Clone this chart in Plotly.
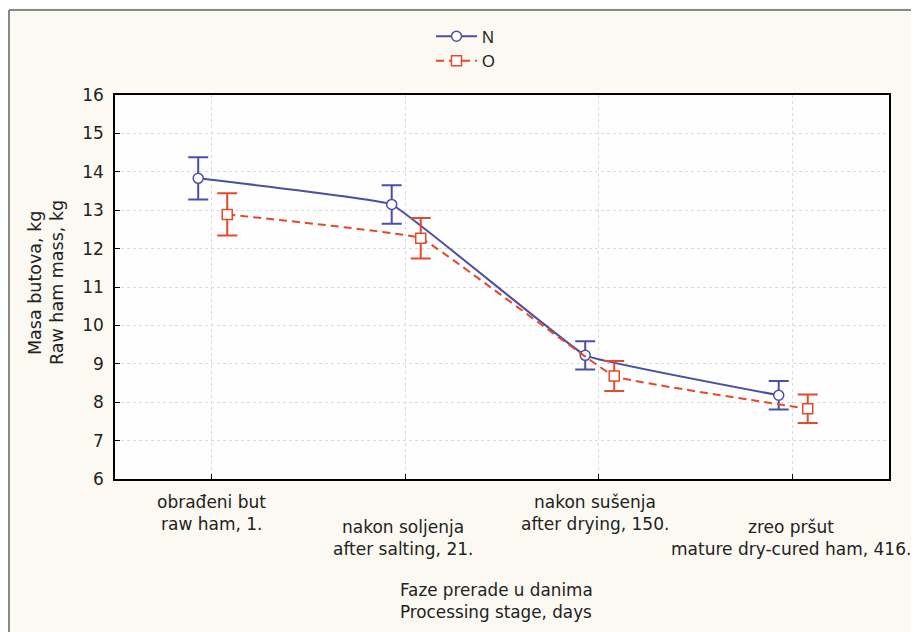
import plotly.graph_objects as go

# ---- data ----
stage_line1 = ["obrađeni but", "nakon soljenja", "nakon sušenja", "zreo pršut"]
stage_line2 = ["raw ham, 1.", "after salting, 21.", "after drying, 150.", "mature dry-cured ham, 416."]
stage_idx = [0, 1, 2, 3]

n_mean = [13.83, 13.15, 9.22, 8.18]
n_err = [0.55, 0.50, 0.37, 0.37]
o_mean = [12.89, 12.27, 8.68, 7.83]
o_err = [0.55, 0.53, 0.39, 0.37]

y_ticks = [6, 7, 8, 9, 10, 11, 12, 13, 14, 15, 16]

# ---- style ----
BLUE = "#4b4fa6"
RED = "#e5492b"
PAPER = "#fcf9f2"
TXT = "#222222"
FONT = "DejaVu Sans"
N_OFF = -0.07
O_OFF = 0.08
OFF = 8  # page body margin
W, H = 919 - OFF, 632 - OFF
# plot area in screen coords
PX0, PX1, PY0, PY1 = 115, 889, 95, 479
L, T = PX0 - OFF, PY0 - OFF
R, B = W - (PX1 - OFF), H - (PY1 - OFF)
PW, PH = PX1 - PX0, PY1 - PY0


def px_x(sx):
    return (sx - PX0) / PW


def px_y(sy):
    return (PY1 - sy) / PH


fig = go.Figure()
fig.add_trace(go.Scatter(
    x=[i + N_OFF for i in stage_idx], y=n_mean, name="N",
    mode="lines+markers",
    line=dict(color=BLUE, width=2, shape="spline", smoothing=0.2),
    marker=dict(symbol="circle", size=10, color="white", line=dict(color=BLUE, width=1.5)),
    error_y=dict(type="data", array=n_err, visible=True, color=BLUE, thickness=2, width=10),
))
fig.add_trace(go.Scatter(
    x=[i + O_OFF for i in stage_idx], y=o_mean, name="O",
    mode="lines+markers",
    line=dict(color=RED, width=2, dash="8px,5px", shape="spline", smoothing=0.2),
    marker=dict(symbol="square", size=10, color="white", line=dict(color=RED, width=1.5)),
    error_y=dict(type="data", array=o_err, visible=True, color=RED, thickness=2, width=10),
))

ann = []
cat_font = dict(family=FONT, size=17, color=TXT)
cat_dx = [0, -2, -4, -1]
for i in stage_idx:
    base = 502 if i % 2 == 0 else 527
    for k, txt in enumerate([stage_line1[i], stage_line2[i]]):
        cy = base + 22 * k
        ann.append(dict(x=i, y=px_y(cy), xref="x", yref="paper", text=txt, showarrow=False,
                        xanchor="center", yanchor="middle", xshift=cat_dx[i], font=cat_font))

title_font = dict(family=FONT, size=16.8, color=TXT)
for txt, cy in [("Faze prerade u danima", 590), ("Processing stage, days", 612)]:
    ann.append(dict(x=px_x(496), y=px_y(cy), xref="paper", yref="paper", text=txt,
                    showarrow=False, xanchor="center", yanchor="middle", font=title_font))

ytitle_font = dict(family=FONT, size=17.5, color=TXT)
for txt, cx in [("Masa butova, kg", 35), ("Raw ham mass, kg", 57)]:
    ann.append(dict(x=px_x(cx), y=px_y(283), xref="paper", yref="paper", text=txt,
                    showarrow=False, xanchor="center", yanchor="middle", textangle=-90,
                    font=ytitle_font))

shapes = [
    dict(type="line", xref="paper", yref="paper", x0=px_x(9), x1=1.2,
         y0=px_y(10), y1=px_y(10), line=dict(color="#888888", width=2)),
    dict(type="line", xref="paper", yref="paper", x0=px_x(9), x1=px_x(9),
         y0=-0.6, y1=px_y(10), line=dict(color="#888888", width=2)),
]

fig.update_layout(
    width=W, height=H,
    margin=dict(l=L, r=R, t=T, b=B, autoexpand=False),
    paper_bgcolor=PAPER, plot_bgcolor="#fefefe",
    showlegend=True,
    legend=dict(x=px_x(431), y=px_y(19), xanchor="left", yanchor="top",
                bgcolor="rgba(0,0,0,0)", font=dict(family="Liberation Sans, Arial", size=16.5, color=TXT),
                itemwidth=41),
    annotations=ann, shapes=shapes,
    font=dict(family=FONT, size=16, color=TXT),
)
fig.update_xaxes(range=[-0.5, 3.5], tickvals=stage_idx, ticktext=["", "", "", ""],
                 ticks="inside", ticklen=5, tickcolor="black", tickwidth=1,
                 showline=True, mirror=True, linecolor="black", linewidth=1.5,
                 showgrid=True, gridcolor="#dadada", griddash="dot", gridwidth=1, zeroline=False)
fig.update_yaxes(range=[6, 16], tickvals=y_ticks, ticks="inside", ticklen=5, tickcolor="black",
                 showline=True, mirror=True, linecolor="black", linewidth=1.5,
                 showgrid=True, gridcolor="#dadada", griddash="dot", gridwidth=1, zeroline=False,
                 ticklabelstandoff=6,
                 tickfont=dict(family=FONT, size=17, color=TXT))

fig.write_html("out.html")
